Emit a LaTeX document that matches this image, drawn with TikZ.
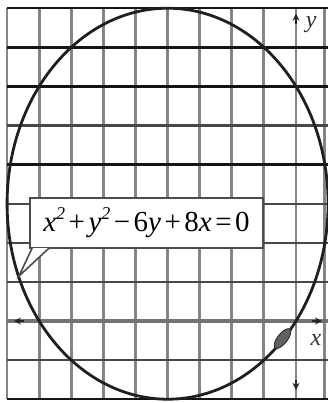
\documentclass[tikz,border=0pt]{standalone}
\usepackage{fontspec}
\setmainfont{Liberation Serif}
\usetikzlibrary{arrows.meta,shapes.geometric}
\newcommand{\sqd}{\raisebox{0.42em}{\fontsize{18}{18}\selectfont 2}}
\newcommand{\opsp}{\hspace{0.12em}}
\begin{document}
\begin{tikzpicture}[x=32.1pt,y=39.1pt,
  vgrid/.style={line width=2.8pt,draw=black!48},
  hgrid/.style={line width=2.2pt,draw=black!72},
  hdark/.style={line width=2.4pt,draw=black!92},
  xaxisline/.style={line width=4pt,draw=black!55},
  curve/.style={line width=2.8pt,draw=black!88},
  tipstyle/.style={draw=black!85,line width=1.2pt},
  lbl/.style={font=\itshape\fontsize{24}{26}\selectfont,text=black!80,inner sep=0pt},
  callout/.style={draw=black!70,line width=1.6pt,fill=white,minimum width=233pt,minimum height=50pt,inner sep=0pt}]
\useasboundingbox (-9.221,-2.097) rectangle (0.997,8.210);
% vertical grid lines
\foreach \i in {-9,...,0} \draw[vgrid] (\i,-2) -- (\i,8);
\draw[vgrid] (0.9,-2) -- (0.9,8);
% horizontal grid lines
\foreach \j in {-1,1,2,3,5} \draw[hgrid] (-9,\j) -- (1,\j);
\foreach \j in {-2,4,6,7,8} \draw[hdark] (-9,\j) -- (1,\j);
\draw[xaxisline] (-9,0) -- (1,0);
% axes arrows
\coordinate (xl) at (-8.79,0);
\coordinate (xr) at (0.81,0);
\coordinate (yt) at (0,7.86);
\coordinate (yb) at (0,-1.76);
\coordinate (o) at (0,0);
\draw[tipstyle,-{Stealth[length=7pt,width=7pt]}] ([xshift=10pt]xl) -- (xl);
\draw[tipstyle,-{Stealth[length=7pt,width=7pt]}] ([xshift=-10pt]xr) -- (xr);
\draw[tipstyle,-{Stealth[length=7pt,width=7pt]}] ([yshift=-10pt]yt) -- (yt);
\draw[tipstyle,-{Stealth[length=7pt,width=7pt]}] ([yshift=10pt]yb) -- (yb);
\node[lbl] (ylab) at (0.47,7.57) {y};
\node[lbl] (xlab) at (0.62,-0.49) {x};
% the circle
\draw[curve] (-4,3) ellipse [x radius=160.5pt, y radius=195.5pt];
% point marker
\node[ellipse,fill=black!62,draw=black!85,line width=0.8pt,minimum width=24pt,minimum height=10pt,inner sep=0pt,rotate=52] (mk) at (-0.42,-0.45) {};
% callout
\node[callout] (eq) at (-4.657,2.506) {\fontsize{29}{31}\selectfont\itshape x\sqd\opsp\upshape+\opsp\itshape y\sqd\opsp\upshape−\opsp 6\itshape y\opsp\upshape+\opsp 8\itshape x\opsp\upshape=\opsp 0};
\coordinate (tip) at (-8.63,1.151);
\coordinate (ta) at ([xshift=3pt,yshift=0.8pt]eq.south west);
\coordinate (tb) at ([xshift=20pt,yshift=0.8pt]eq.south west);
\fill[white] (ta) -- (tip) -- (tb) -- cycle;
\draw[draw=black!70,line width=1.6pt,line join=miter] (ta) -- (tip) -- (tb);
\end{tikzpicture}
\end{document}
